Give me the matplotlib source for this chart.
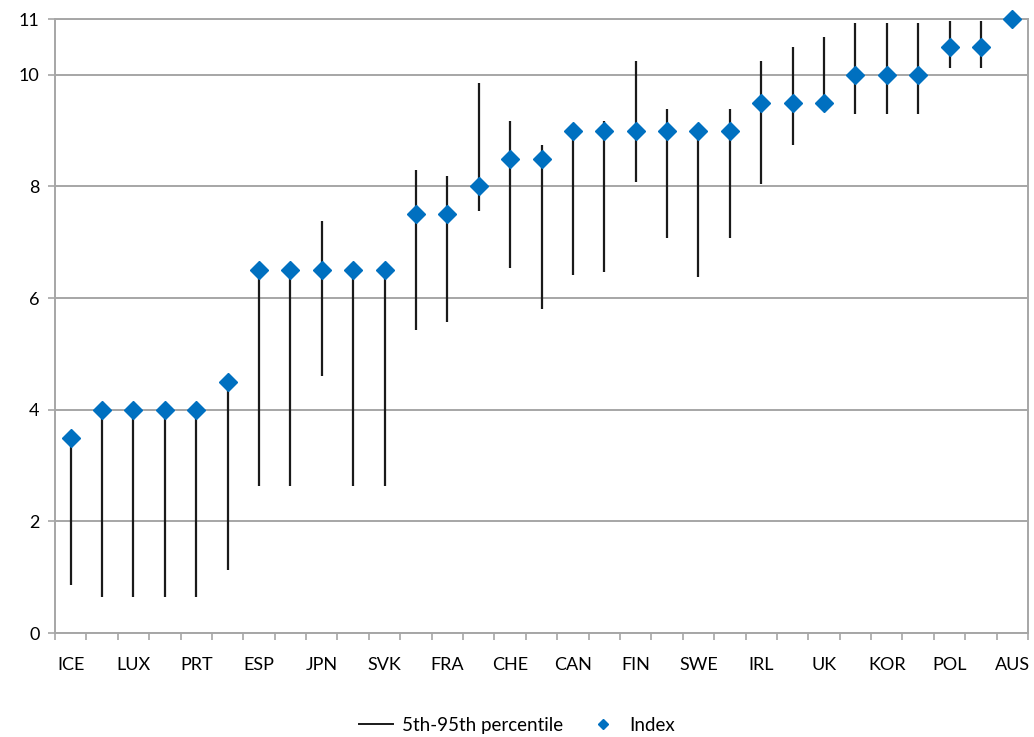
import matplotlib.pyplot as plt
from matplotlib.lines import Line2D
import numpy as np

plt.rcParams['font.family'] = ['Lato', 'DejaVu Sans']
plt.rcParams['font.size'] = 13

# country codes, sorted by index score
countries = ['ICE', 'GRC', 'LUX', 'TUR', 'PRT', 'CHL', 'ESP', 'ITA', 'JPN', 'BEL',
             'SVK', 'AUT', 'FRA', 'HUN', 'CHE', 'CZE', 'CAN', 'DEU', 'FIN', 'NLD',
             'SWE', 'NOR', 'IRL', 'DNK', 'UK', 'NZL', 'KOR', 'USA', 'POL', 'EST', 'AUS']
index_vals = [3.5, 4, 4, 4, 4, 4.5, 6.5, 6.5, 6.5, 6.5,
              6.5, 7.5, 7.5, 8, 8.5, 8.5, 9, 9, 9, 9,
              9, 9, 9.5, 9.5, 9.5, 10, 10, 10, 10.5, 10.5, 11]
p5 = [0.86, 0.64, 0.64, 0.64, 0.64, 1.12, 2.64, 2.64, 4.61, 2.64,
      2.64, 5.43, 5.58, 7.56, 6.54, 5.81, 6.42, 6.47, 8.08, 7.08,
      6.38, 7.08, 8.04, 8.75, 9.5, 9.29, 9.29, 9.29, 10.13, 10.13, 11]
p95 = [3.5, 4, 4, 4, 4, 4.5, 6.5, 6.5, 7.39, 6.5,
       6.5, 8.29, 8.18, 9.86, 9.18, 8.75, 9.0, 9.18, 10.25, 9.39,
       9.0, 9.39, 10.25, 10.5, 10.68, 10.93, 10.93, 10.93, 10.97, 10.97, 11]

x = np.arange(len(countries))
grid_col = '#a6a6a6'
line_col = '#1a1a1a'
blue = '#0070c0'

fig = plt.figure(figsize=(10.34, 7.37), dpi=100)
ax = fig.add_axes([0.0532, 0.1411, 0.9410, 0.8331])

ax.vlines(x, p5, p95, color=line_col, linewidth=1.6, zorder=3)
ax.plot(x, index_vals, linestyle='none', marker='D', markersize=9.3, color=blue,
        markeredgecolor=blue, zorder=4, clip_on=False)

ax.set_xlim(-0.5, len(countries) - 0.5)
ax.set_ylim(0, 11)
ax.set_yticks([0, 2, 4, 6, 8, 10, 11])
ax.yaxis.grid(True, color=grid_col, linewidth=1.4)
ax.set_axisbelow(True)
ax.tick_params(axis='y', length=5, width=1.2, color=grid_col, pad=6)

# category boundary ticks, labels centred on every other category
ax.set_xticks(np.arange(len(countries) + 1) - 0.5)
ax.set_xticklabels([])
ax.tick_params(axis='x', which='major', length=5, width=1.2, color=grid_col)
ax.set_xticks(x[::2], minor=True)
ax.set_xticklabels(countries[::2], minor=True)
ax.tick_params(axis='x', which='minor', length=0, pad=17)

for side in ['left', 'right', 'top', 'bottom']:
    ax.spines[side].set_color(grid_col)
    ax.spines[side].set_linewidth(1.4)

handles = [Line2D([0, 1], [0, 0], color=line_col, linewidth=1.4, linestyle='-'),
           Line2D([0], [0], linestyle='none', marker='D', markersize=5, color=blue)]
fig.legend(handles, ['5th-95th percentile', 'Index'], loc='center',
           bbox_to_anchor=(0.5, 0.016), ncol=2, frameon=False,
           handlelength=1.8, columnspacing=1.2, handletextpad=0.5, fontsize=13.5)

fig.savefig('out.png', dpi=100)
